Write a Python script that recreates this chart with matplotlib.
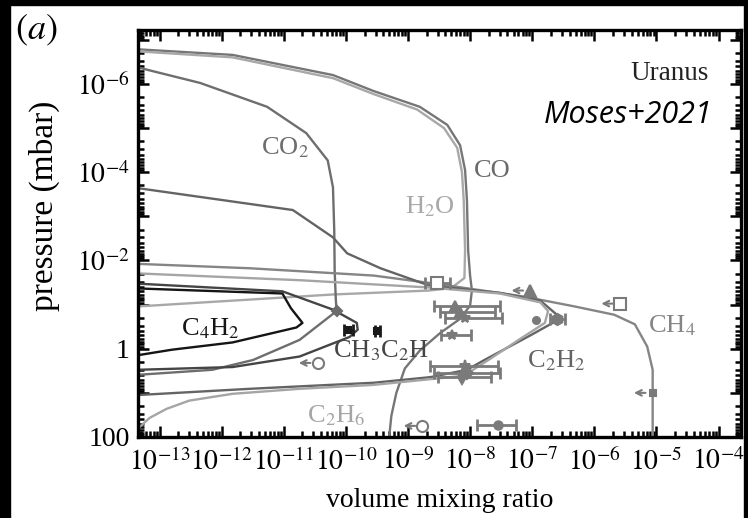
import math
import matplotlib
matplotlib.use('Agg')
import matplotlib.pyplot as plt
from matplotlib.ticker import FixedLocator, LogLocator, NullFormatter, FuncFormatter
from matplotlib.patches import Rectangle

plt.rcParams['font.family'] = 'Liberation Serif'
plt.rcParams['mathtext.fontset'] = 'stix'

# model profiles: volume mixing ratio vs pressure (mbar)
co_vmr = [1e-14, 1.5e-12, 6.2e-11, 2.8e-10, 1.55e-9, 4.3e-9, 6.9e-9, 8.3e-9, 8.9e-9, 9.3e-9,
          1.0e-8, 1.07e-8, 1.0e-8, 6.9e-9, 3.3e-9, 1.55e-9, 8.9e-10, 6.5e-10, 5.4e-10, 4.9e-10]
co_p = [1.45e-7, 2.2e-7, 6.3e-7, 1.45e-6, 3.3e-6, 8.5e-6, 2.45e-5, 8.9e-5, 4.4e-4, 5.9e-3,
        0.022, 0.048, 0.105, 0.21, 0.44, 1.1, 2.8, 10, 33, 126]

h2o_vmr = [1e-14, 1.5e-12, 6.2e-11, 2.8e-10, 1.4e-9, 3.8e-9, 6.2e-9, 7.4e-9, 7.9e-9, 8.3e-9,
           8.1e-9, 5.0e-9, 2.2e-9, 6.2e-11, 4.5e-14, 1e-14]
h2o_p = [1.6e-7, 2.5e-7, 7.4e-7, 1.7e-6, 3.8e-6, 1e-5, 2.8e-5, 1e-4, 4.4e-4, 5.9e-3,
         0.025, 0.042, 0.048, 0.059, 0.11, 0.13]

co2_vmr = [1e-14, 4.5e-13, 5.4e-12, 2.3e-11, 5.1e-11, 6.2e-11, 6.5e-11, 6.6e-11, 6.9e-11, 7.1e-11,
           1.8e-11, 3.2e-12, 7.1e-13, 4.5e-14, 1e-14]
co2_p = [2.5e-7, 9.5e-7, 3.3e-6, 1.3e-5, 5.4e-5, 2.2e-4, 2.1e-3, 0.017, 0.081, 0.14,
         0.63, 1.8, 3.0, 3.9, 4.3]

ch4_vmr = [1e-14, 2.8e-12, 2.8e-10, 3.4e-9, 7.4e-8, 4.8e-7, 2.1e-6, 4.5e-6, 7.1e-6, 8.7e-6, 8.7e-6]
ch4_p = [0.011, 0.015, 0.022, 0.035, 0.066, 0.11, 0.17, 0.28, 0.89, 3.0, 126]

c2h2_vmr = [1e-14, 4.5e-14, 1.4e-11, 6.2e-11, 1.05e-10, 3.6e-10, 2.2e-9, 3.0e-8, 1.35e-7, 2.5e-7,
            2.5e-7, 9.3e-8, 1.7e-8, 8.9e-9, 2.3e-9, 2.8e-10, 2.8e-12, 4.5e-14, 1e-14]
c2h2_p = [2.0e-4, 2.3e-4, 7.2e-4, 3.0e-3, 6.9e-3, 0.015, 0.037, 0.054, 0.081, 0.17,
          0.23, 0.5, 1.8, 3.0, 4.4, 5.9, 8.1, 11.2, 12]

c2h6_vmr = [1e-14, 1.8e-11, 2.2e-9, 3.0e-8, 1.35e-7, 1.8e-7, 1.6e-7, 6.5e-8, 2.1e-8, 7.9e-9,
            2.8e-10, 1.8e-11, 1.5e-12, 3.0e-13, 1.3e-13, 6.9e-14, 4.8e-14, 3.2e-14]
c2h6_p = [0.018, 0.028, 0.041, 0.056, 0.089, 0.14, 0.26, 0.59, 1.7, 4.1,
          6.6, 8.1, 10.5, 15, 23, 37, 59, 126]

c4h2_vmr = [1e-14, 9.5e-12, 1.3e-11, 2.0e-11, 1.6e-11, 1.5e-12, 1.6e-13, 4.5e-14, 1e-14]
c4h2_p = [0.04, 0.056, 0.12, 0.26, 0.33, 0.72, 1.05, 1.4, 1.6]

ch3c2h_vmr = [1e-14, 9.5e-12, 6.2e-11, 1.5e-10, 1.55e-10, 1.15e-10, 1.8e-11, 1.5e-12, 4.5e-14, 1e-14]
ch3c2h_p = [0.03, 0.05, 0.13, 0.26, 0.37, 0.54, 1.5, 2.6, 3.0, 3.2]

# observations
obs_vmr = [2.9e-9, 2.6e-6, 9.3e-8, 2.5e-7, 1.15e-7, 5.8e-9, 6.9e-9, 8.3e-9, 5.1e-9, 8.3e-9,
           8.9e-9, 7.4e-9, 1.7e-9, 2.8e-8, 8.7e-6, 3.5e-11, 1.1e-10, 3.2e-10, 7.1e-11]
obs_p = [0.033, 0.095, 0.048, 0.21, 0.22, 0.105, 0.15, 0.2, 0.48, 2.4,
         3.5, 4.4, 56, 53, 10, 2.1, 0.37, 0.39, 0.14]
obs_lo = [1.9e-9, None, None, 1.9e-7, None, 2.6e-9, 3.3e-9, 4.0e-9, 3.4e-9, 2.3e-9,
          2.6e-9, 3.0e-9, None, 1.3e-8, None, None, 9.5e-11, 2.9e-10, None]
obs_hi = [4.8e-9, None, None, 3.4e-7, None, 3.0e-8, 2.5e-8, 3.3e-8, 1.05e-8, 2.8e-8,
          3.0e-8, 2.2e-8, None, 5.5e-8, None, None, 1.3e-10, 3.6e-10, None]
obs_marker = ['s', 's', '^', 'h', 'o', '^', '^', '*', '*', '*',
              'D', 'd', 'o', 'o', 's', 'o', 's', 's', 'D']
obs_size = [8, 9, 8, 8, 5, 7, 7, 8, 7, 8,
            6, 7, 8, 6, 5, 8, 4, 4, 5]
obs_open = [True, True, False, False, False, False, False, False, False, False,
            False, False, True, False, False, True, False, False, False]
obs_upper = [False, True, True, False, False, False, False, False, False, False,
             False, False, True, False, True, True, False, False, False]
obs_color = ['#7a7a7a'] * 16 + ['#1a1a1a', '#1a1a1a', '#6a6a6a']

xticks = [1e-13, 1e-12, 1e-11, 1e-10, 1e-9, 1e-8, 1e-7, 1e-6, 1e-5, 1e-4]
yticks = [1e-7, 1e-6, 1e-5, 1e-4, 1e-3, 1e-2, 1e-1, 1, 10, 100]
ylabels = {-6: r'$10^{-6}$', -4: r'$10^{-4}$', -2: r'$10^{-2}$', 0: '1', 2: '100'}


def xfmt(v, pos):
    return r'$10^{%d}$' % round(math.log10(v))


def yfmt(v, pos):
    return ylabels.get(round(math.log10(v)), '')


fig = plt.figure(figsize=(7.48, 5.18), dpi=100)
ax = fig.add_axes([138 / 748, 81 / 518, 603 / 748, 407 / 518])

lw = 1.7
ax.plot(co_vmr, co_p, color='#767676', lw=lw)
ax.plot(h2o_vmr, h2o_p, color='#a8a8a8', lw=lw)
ax.plot(co2_vmr, co2_p, color='#6e6e6e', lw=lw)
ax.plot(ch4_vmr, ch4_p, color='#858585', lw=lw)
ax.plot(c2h2_vmr, c2h2_p, color='#646464', lw=lw)
ax.plot(c2h6_vmr, c2h6_p, color='#a5a5a5', lw=lw)
ax.plot(ch3c2h_vmr, ch3c2h_p, color='#454545', lw=lw)
ax.plot(c4h2_vmr, c4h2_p, color='#151515', lw=lw)

for i in range(len(obs_vmr)):
    x, p, c = obs_vmr[i], obs_p[i], obs_color[i]
    if obs_lo[i] is not None:
        ax.errorbar([x], [p], xerr=[[x - obs_lo[i]], [obs_hi[i] - x]], fmt='none',
                    ecolor=c, elinewidth=2, capsize=4, capthick=2)
    fc = 'white' if obs_open[i] else c
    ax.plot([x], [p], marker=obs_marker[i], ms=obs_size[i], mfc=fc, mec=c, mew=1.5, ls='none')
    if obs_upper[i]:
        ax.annotate('', xy=(x * 0.45, p), xytext=(x * 0.85, p),
                    arrowprops=dict(arrowstyle='->', color=c, lw=1.5))

fs = 19
ax.text(1.05e-11, 2.8e-5, r'CO$_2$', color='#6e6e6e', fontsize=fs, ha='center', va='center')
ax.text(2.3e-8, 9.5e-5, 'CO', color='#6a6a6a', fontsize=fs, ha='center', va='center')
ax.text(2.3e-9, 5.9e-4, r'H$_2$O', color='#a8a8a8', fontsize=fs, ha='center', va='center')
ax.text(6.6e-13, 0.35, r'C$_4$H$_2$', color='#151515', fontsize=fs, ha='center', va='center')
ax.text(6.2e-11, 1.1, r'CH$_3$C$_2$H', color='#454545', fontsize=fs, ha='left', va='center')
ax.text(6.9e-11, 33, r'C$_2$H$_6$', color='#a5a5a5', fontsize=fs, ha='center', va='center')
ax.text(2.45e-7, 1.9, r'C$_2$H$_2$', color='#646464', fontsize=fs, ha='center', va='center')
ax.text(7.4e-6, 0.3, r'CH$_4$', color='#858585', fontsize=fs, ha='left', va='center')
ax.text(0.947, 0.894, 'Uranus', transform=ax.transAxes, fontsize=19.5, ha='right', va='center',
        color='#222222')
ax.text(0.952, 0.791, 'Moses+2021', transform=ax.transAxes, fontsize=22, ha='right',
        va='center', family='Open Sans', style='italic', color='black')

ax.set_xscale('log')
ax.set_yscale('log')
ax.set_xlim(4.5e-14, 2.3e-4)
ax.set_ylim(100, 6e-8)

ax.xaxis.set_major_locator(FixedLocator(xticks))
ax.xaxis.set_major_formatter(FuncFormatter(xfmt))
ax.yaxis.set_major_locator(FixedLocator(yticks))
ax.yaxis.set_major_formatter(FuncFormatter(yfmt))
ax.xaxis.set_minor_locator(LogLocator(base=10, subs=range(2, 10), numticks=100))
ax.yaxis.set_minor_locator(LogLocator(base=10, subs=range(2, 10), numticks=100))
ax.xaxis.set_minor_formatter(NullFormatter())
ax.yaxis.set_minor_formatter(NullFormatter())
ax.tick_params(which='both', direction='in', top=True, right=True, width=1.8, colors='black')
ax.tick_params(which='major', length=8, labelsize=20)
ax.tick_params(axis='x', which='major', pad=8)
ax.tick_params(axis='y', which='major', pad=6)
ax.tick_params(which='minor', length=4.5)
for s in ax.spines.values():
    s.set_linewidth(2.4)

ax.set_xlabel('volume mixing ratio', fontsize=20)
ax.xaxis.set_label_coords(0.5, -0.125)
ax.set_ylabel('pressure (mbar)', fontsize=24)
ax.yaxis.set_label_coords(-0.13, 0.567)
fig.text(36 / 748, 1 - 30 / 518, r'$(a)$', fontsize=26, ha='center', va='center')

# black frame around the panel
fig.add_artist(Rectangle((0, 0), 10 / 748, 1, transform=fig.transFigure, color='black'))
fig.add_artist(Rectangle((0, 1 - 5 / 518), 1, 5 / 518, transform=fig.transFigure, color='black'))
fig.add_artist(Rectangle((1 - 4 / 748, 0), 4 / 748, 1, transform=fig.transFigure, color='black'))

fig.savefig('out.png', dpi=100)
